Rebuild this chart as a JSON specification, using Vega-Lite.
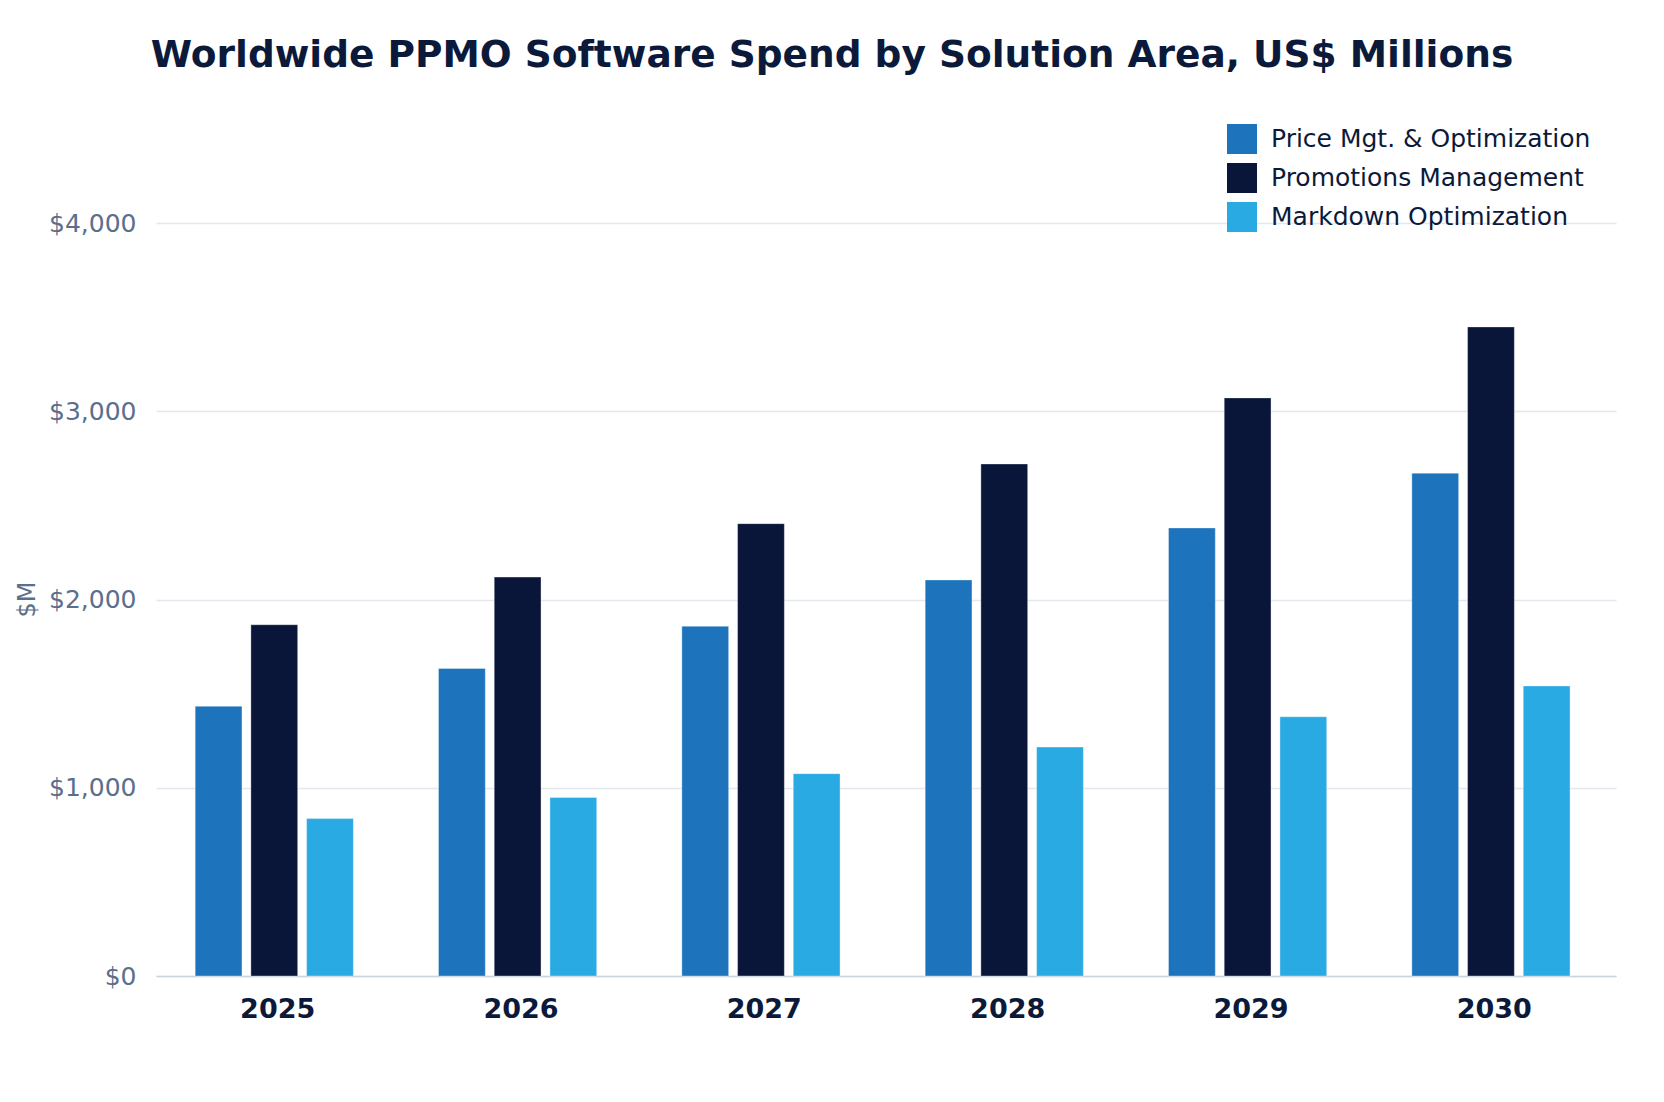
{
  "$schema": "https://vega.github.io/schema/vega-lite/v6.json",
  "autosize": "none",
  "width": 1460,
  "height": 753,
  "padding": {"left": 156, "top": 223, "right": 48, "bottom": 126},
  "background": "#ffffff",
  "config": {
    "font": "DejaVu Sans",
    "view": {"stroke": null}
  },
  "title": {
    "text": "Worldwide PPMO Software Spend by Solution Area, US$ Millions",
    "font": "DejaVu Sans",
    "fontSize": 37.5,
    "fontWeight": "bold",
    "color": "#0b1a3a",
    "anchor": "middle",
    "dx": -54,
    "offset": 50
  },
  "data": {
    "values": [
      {"year": "2025", "area": "Price Mgt. & Optimization", "spend": 1433},
      {"year": "2025", "area": "Promotions Management", "spend": 1866},
      {"year": "2025", "area": "Markdown Optimization", "spend": 836},
      {"year": "2026", "area": "Price Mgt. & Optimization", "spend": 1634},
      {"year": "2026", "area": "Promotions Management", "spend": 2119},
      {"year": "2026", "area": "Markdown Optimization", "spend": 948},
      {"year": "2027", "area": "Price Mgt. & Optimization", "spend": 1858},
      {"year": "2027", "area": "Promotions Management", "spend": 2403},
      {"year": "2027", "area": "Markdown Optimization", "spend": 1075},
      {"year": "2028", "area": "Price Mgt. & Optimization", "spend": 2104},
      {"year": "2028", "area": "Promotions Management", "spend": 2720},
      {"year": "2028", "area": "Markdown Optimization", "spend": 1216},
      {"year": "2029", "area": "Price Mgt. & Optimization", "spend": 2380},
      {"year": "2029", "area": "Promotions Management", "spend": 3071},
      {"year": "2029", "area": "Markdown Optimization", "spend": 1377},
      {"year": "2030", "area": "Price Mgt. & Optimization", "spend": 2671},
      {"year": "2030", "area": "Promotions Management", "spend": 3448},
      {"year": "2030", "area": "Markdown Optimization", "spend": 1541}
    ]
  },
  "mark": {"type": "bar", "stroke": "#ffffff", "strokeWidth": 1, "strokeOpacity": 0.35},
  "encoding": {
    "x": {
      "field": "year",
      "type": "nominal",
      "scale": {"paddingInner": 0.35, "paddingOuter": 0.175},
      "axis": {
        "title": null,
        "labelAngle": 0,
        "labelFont": "DejaVu Sans",
        "labelFontSize": 27,
        "labelFontWeight": "bold",
        "labelColor": "#0b1a3a",
        "labelPadding": 20,
        "ticks": false,
        "domain": true,
        "domainColor": "#cbd5e1",
        "domainWidth": 1.5,
        "grid": false
      }
    },
    "xOffset": {
      "field": "area",
      "type": "nominal",
      "sort": ["Price Mgt. & Optimization", "Promotions Management", "Markdown Optimization"],
      "scale": {"paddingInner": 0.16, "paddingOuter": 0, "range": [-3.4, 154.8]}
    },
    "y": {
      "field": "spend",
      "type": "quantitative",
      "scale": {"domain": [0, 4000], "nice": false},
      "axis": {
        "title": "$M",
        "titleFont": "DejaVu Sans",
        "titleFontSize": 24,
        "titleFontWeight": "normal",
        "titleColor": "#5b6f8c",
        "titleX": -129,
        "titleY": 376,
        "titleAngle": 270,
        "titleAlign": "center",
        "titleBaseline": "middle",
        "values": [0, 1000, 2000, 3000, 4000],
        "format": "$,.0f",
        "labelFont": "DejaVu Sans",
        "labelFontSize": 25,
        "labelColor": "#5b6f8c",
        "labelPadding": 20,
        "ticks": false,
        "domain": false,
        "grid": true,
        "gridColor": "#e3e8ef",
        "gridWidth": 1.5
      }
    },
    "color": {
      "field": "area",
      "type": "nominal",
      "sort": ["Price Mgt. & Optimization", "Promotions Management", "Markdown Optimization"],
      "scale": {
        "domain": ["Price Mgt. & Optimization", "Promotions Management", "Markdown Optimization"],
        "range": ["#1d74bd", "#09163a", "#2aaae2"]
      },
      "legend": {
        "title": null,
        "orient": "none",
        "legendX": 1071,
        "legendY": -99,
        "symbolType": "square",
        "symbolSize": 900,
        "symbolStrokeWidth": 0,
        "labelFont": "DejaVu Sans",
        "labelFontSize": 25,
        "labelLimit": 500,
        "labelColor": "#0b1a3a",
        "labelOffset": 14,
        "rowPadding": 9,
        "padding": 0
      }
    }
  }
}
